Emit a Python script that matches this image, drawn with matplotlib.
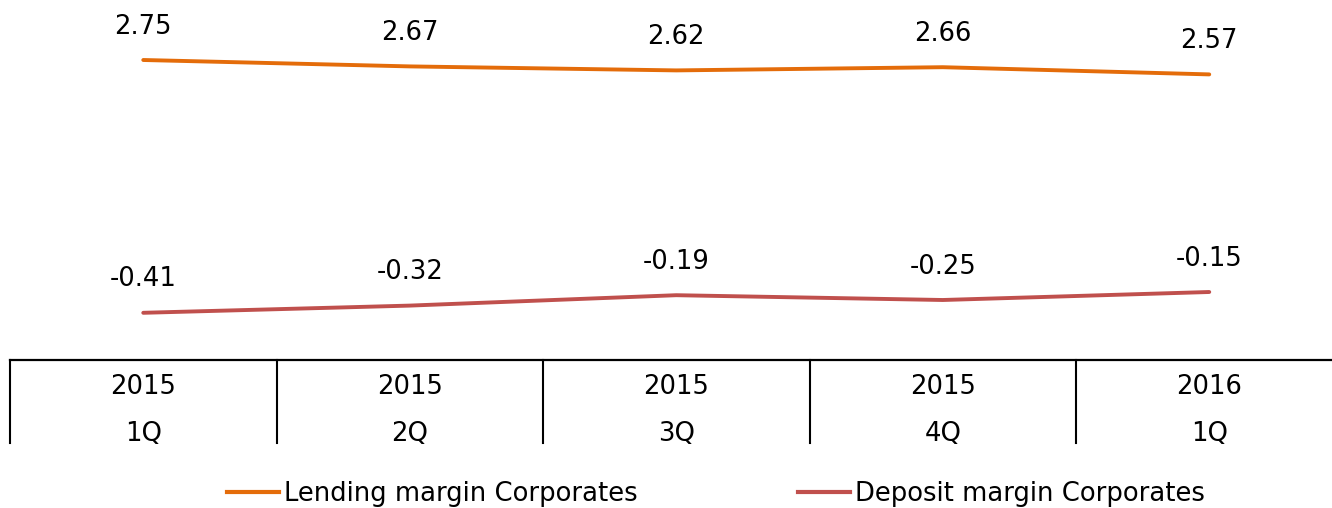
import matplotlib.pyplot as plt
from matplotlib.patches import Rectangle

# quarterly margins, %
years = ['2015', '2015', '2015', '2015', '2016']
quarters = ['1Q', '2Q', '3Q', '4Q', '1Q']
lending = [2.75, 2.67, 2.62, 2.66, 2.57]
deposit = [-0.41, -0.32, -0.19, -0.25, -0.15]

orange = '#E46C0A'
red = '#C0504D'
fs = 18.6

W, H = 1332, 508
fig = plt.figure(figsize=(W / 100, H / 100), dpi=100)
# axes from x=10px, 5 categories of ~266.5px, top of fig down to y=360px
ax = fig.add_axes([10 / W, (H - 360) / H, 5 * 266.5 / W, 360 / H])

x = list(range(len(years)))
ax.plot(x, lending, color=orange, lw=2.8, solid_capstyle='round')
ax.plot(x, deposit, color=red, lw=2.8, solid_capstyle='round')

for xi, v in zip(x, lending):
    ax.annotate(f'{v:.2f}', (xi, v), xytext=(0, 24), textcoords='offset points',
                ha='center', va='center', fontsize=fs)
for xi, v in zip(x, deposit):
    ax.annotate(f'{v:.2f}', (xi, v), xytext=(0, 24), textcoords='offset points',
                ha='center', va='center', fontsize=fs)

ax.set_xlim(-0.5, 4.5)
ax.set_ylim(-1, 3.5)
for s in ['top', 'right', 'left']:
    ax.spines[s].set_visible(False)
ax.spines['bottom'].set_linewidth(1.6)
ax.set_xticks([])
ax.set_yticks([])

# category separators below the axis
tr = ax.get_xaxis_transform()
drop = 83 / 360
for b in [-0.5, 0.5, 1.5, 2.5, 3.5]:
    ax.plot([b, b], [0, -drop], color='black', lw=1.5, transform=tr, clip_on=False)

# category labels, cut off at the bottom like the original
clip = Rectangle((0, (H - 440) / H), 1, 1, transform=fig.transFigure, visible=False)
fig.add_artist(clip)
for xi, yr, q in zip(x, years, quarters):
    ax.text(xi, -27 / 360, yr, transform=tr, ha='center', va='center', fontsize=fs)
    t = ax.text(xi, -74 / 360, q, transform=tr, ha='center', va='center', fontsize=fs)
    t.set_clip_path(clip)

h1, = ax.plot([], [], color=orange, lw=3, label='Lending margin Corporates')
h2, = ax.plot([], [], color=red, lw=3, label='Deposit margin Corporates')
fig.legend(handles=[h1, h2], loc='center', bbox_to_anchor=(716 / W, 14 / H),
           ncol=2, frameon=False, fontsize=fs, handlelength=2.0,
           handletextpad=0.2, columnspacing=6.2)

fig.savefig('out.png', dpi=100)
